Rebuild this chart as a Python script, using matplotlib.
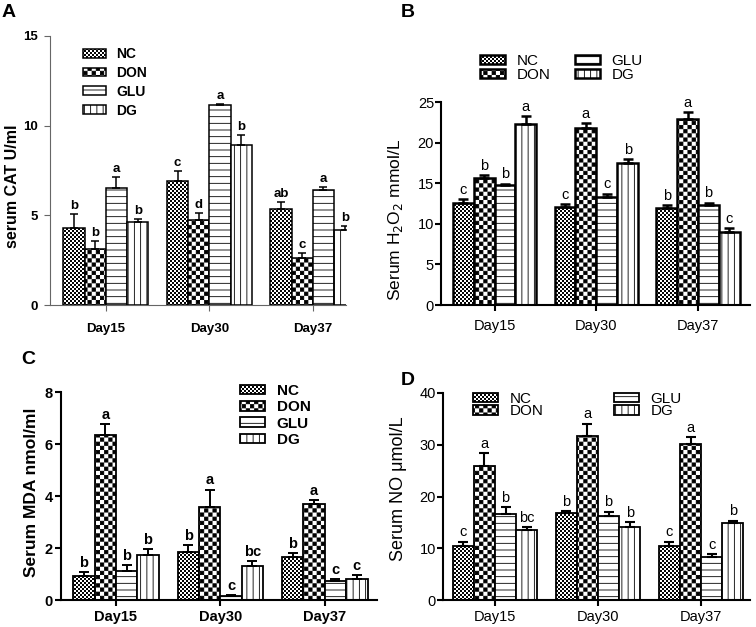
import warnings

import numpy as np
import matplotlib
matplotlib.use("Agg")
import matplotlib.pyplot as plt
import matplotlib.hatch as mhatch
from matplotlib.path import Path

warnings.filterwarnings("ignore")

DPI = 100
W, H = 756, 627
HATCH_LW = 0.6                       # pt
plt.rcParams["font.family"] = ["Liberation Sans", "DejaVu Sans"]
plt.rcParams["hatch.linewidth"] = HATCH_LW
plt.rcParams["hatch.color"] = "black"

GROUPS = ["NC", "DON", "GLU", "DG"]
DAYS = ["Day15", "Day30", "Day37"]
HATCHES = ["k", "c", "h", "v"]       # fine checker, coarse checker, hlines, vlines

# ---- data (rows: NC, DON, GLU, DG; cols: Day15, Day30, Day37) ----------------
cat_mean = [[4.27, 6.91, 5.33], [3.10, 4.74, 2.64], [6.54, 11.15, 6.41], [4.63, 8.90, 4.18]]
cat_err = [[0.79, 0.58, 0.43], [0.49, 0.37, 0.24], [0.62, 0.05, 0.15], [0.17, 0.58, 0.22]]
cat_sig = [["b", "c", "ab"], ["b", "d", "c"], ["a", "a", "a"], ["b", "b", "b"]]

h2o2_mean = [[12.58, 12.09, 11.97], [15.66, 21.80, 22.95], [14.75, 13.24, 12.30], [22.34, 17.54, 9.02]]
h2o2_err = [[0.42, 0.33, 0.33], [0.32, 0.66, 0.82], [0.21, 0.49, 0.32], [0.96, 0.49, 0.48]]
h2o2_sig = [["c", "c", "b"], ["b", "a", "a"], ["b", "c", "b"], ["a", "b", "c"]]

mda_mean = [[0.93, 1.83, 1.66], [6.34, 3.58, 3.69], [1.13, 0.15, 0.74], [1.75, 1.32, 0.82]]
mda_err = [[0.16, 0.27, 0.13], [0.42, 0.67, 0.15], [0.21, 0.04, 0.05], [0.20, 0.19, 0.13]]
mda_sig = [["b", "b", "b"], ["a", "a", "a"], ["b", "c", "c"], ["b", "bc", "c"]]

no_mean = [[10.45, 16.9, 10.45], [25.9, 31.6, 30.1], [16.6, 16.3, 8.4], [13.55, 14.2, 14.8]]
no_err = [[0.85, 0.3, 0.85], [2.5, 2.5, 1.4], [1.3, 0.8, 0.4], [0.5, 0.8, 0.55]]
no_sig = [["c", "b", "c"], ["a", "a", "a"], ["b", "b", "c"], ["bc", "b", "b"]]


# ---- custom hatch patterns (checkerboards + line fills) ---------------------
class Checker(mhatch.HatchPatternBase):
    def __init__(self, hatch, density):
        self.n = 24 * hatch.count("c") + 50 * hatch.count("k")
        self.num_vertices = (self.n * self.n // 2) * 5

    def set_vertices_and_codes(self, vertices, codes):
        n = self.n
        step = 1.0 / n
        shrink = HATCH_LW / 72 / 2            # compensate for the hatch stroke
        ii, jj = np.meshgrid(np.arange(n), np.arange(n))
        m = (ii + jj) % 2 == 0
        x0 = ii[m] * step + shrink
        y0 = jj[m] * step + shrink
        x1 = x0 + step - 2 * shrink
        y1 = y0 + step - 2 * shrink
        sq = np.stack([np.c_[x0, y0], np.c_[x1, y0], np.c_[x1, y1],
                       np.c_[x0, y1], np.c_[x0, y0]], axis=1)
        vertices[:] = sq.reshape(-1, 2)
        c = [Path.MOVETO, Path.LINETO, Path.LINETO, Path.LINETO, Path.CLOSEPOLY]
        codes[:] = np.tile(c, len(x0))


class Lines(mhatch.HatchPatternBase):
    def __init__(self, hatch, density):
        self.nh = 15 * hatch.count("h")
        self.nv = 16 * hatch.count("v")
        self.num_vertices = 2 * (self.nh + self.nv)

    def set_vertices_and_codes(self, vertices, codes):
        pts = []
        for k in range(self.nh):
            y = (k + 0.5) / self.nh
            pts += [(0, y), (1, y)]
        for k in range(self.nv):
            x = (k + 0.5) / self.nv
            pts += [(x, 0), (x, 1)]
        vertices[:] = pts
        codes[0::2] = Path.MOVETO
        codes[1::2] = Path.LINETO


mhatch._hatch_types.extend([Checker, Lines])

fig = plt.figure(figsize=(W / DPI, H / DPI), dpi=DPI)


def px_axes(l, t, r, b):
    return fig.add_axes([l / W, 1 - b / H, (r - l) / W, (b - t) / H])


def panel(ax, mean, err, sig, st):
    x = np.arange(len(DAYS))
    w = 0.205
    fw = "bold" if st["bold"] else "normal"
    for i, g in enumerate(GROUPS):
        xs = x + (i - 1.5) * w
        ax.bar(xs, mean[i], w, color="white", edgecolor="black", linewidth=st["lw"],
               hatch=HATCHES[i], label=g, zorder=2)
        ax.errorbar(xs, mean[i], yerr=[np.zeros(len(xs)), err[i]], fmt="none",
                    ecolor="black", elinewidth=st["elw"], capsize=st["cap"],
                    capthick=st["elw"], zorder=3)
        for xx, m, e, s in zip(xs, mean[i], err[i], sig[i]):
            ax.annotate(s, (xx, m + e), xytext=(0, 1.5), textcoords="offset points",
                        ha="center", va="bottom", fontsize=st["fs"], fontweight=fw)
    ax.set_xlim(*st["xlim"])
    ax.set_ylim(0, st["yticks"][-1])
    ax.set_yticks(st["yticks"])
    ax.set_yticklabels([str(v) for v in st["yticks"]], fontsize=st["fs"], fontweight=fw)
    ax.set_xticks(x)
    ax.set_xticklabels(DAYS, fontsize=st["fs"], fontweight=fw)
    for s in ("top", "right"):
        ax.spines[s].set_visible(False)
    for s in ("left", "bottom"):
        ax.spines[s].set_linewidth(st["slw"])
        ax.spines[s].set_color(st["scol"])
    ax.tick_params(axis="both", length=4, width=st["slw"], color=st["scol"])
    ax.tick_params(axis="x", pad=st["xpad"])
    ax.tick_params(axis="y", pad=st["ypad"])
    ax.set_ylabel(st["ylabel"], fontsize=st["ylfs"], fontweight=fw)
    ax.yaxis.set_label_coords(*st["ylab_xy"])
    ax.legend(loc="upper left", bbox_to_anchor=(st["leg"][0] / W, 1 - st["leg"][1] / H),
              bbox_transform=fig.transFigure, ncol=st["ncol"], frameon=False,
              borderpad=0, borderaxespad=0, handlelength=1.65, handleheight=0.6,
              handletextpad=0.75, labelspacing=st["lsp"], columnspacing=st["csp"],
              prop={"size": st["fs"] + 0.5, "weight": fw})


axA = px_axes(50, 36, 346, 305)
panel(axA, cat_mean, cat_err, cat_sig, dict(
    bold=True, lw=1.1, elw=1.1, cap=3.2, fs=9.5, xlim=(-0.54, 2.32),
    yticks=[0, 5, 10, 15], slw=0.8, scol="#666666", xpad=9, ypad=5,
    ylabel="serum CAT U/ml", ylfs=11.5, ylab_xy=(-0.1, 0.44), leg=(83, 47), ncol=1,
    lsp=0.35, csp=1.0))

axB = px_axes(441, 102, 750, 305)
panel(axB, h2o2_mean, h2o2_err, h2o2_sig, dict(
    bold=False, lw=1.8, elw=1.8, cap=3.5, fs=10.5, xlim=(-0.526, 2.51),
    yticks=[0, 5, 10, 15, 20, 25], slw=1.5, scol="black", xpad=6, ypad=1,
    ylabel="Serum H$_2$O$_2$ mmol/L", ylfs=12.5, ylab_xy=(-0.115, 0.42), leg=(480, 54),
    ncol=2, lsp=0.0, csp=1.6))

axC = px_axes(61, 392, 377, 600)
panel(axC, mda_mean, mda_err, mda_sig, dict(
    bold=True, lw=1.3, elw=1.4, cap=3.5, fs=10.5, xlim=(-0.526, 2.5),
    yticks=[0, 2, 4, 6, 8], slw=1.5, scol="black", xpad=3, ypad=2,
    ylabel="Serum MDA nmol/ml", ylfs=12.5, ylab_xy=(-0.07, 0.52), leg=(240, 384), ncol=1,
    lsp=0.15, csp=1.0))

axD = px_axes(443, 393, 750, 600)
panel(axD, no_mean, no_err, no_sig, dict(
    bold=False, lw=1.3, elw=1.5, cap=3.5, fs=10.5, xlim=(-0.505, 2.475),
    yticks=[0, 10, 20, 30, 40], slw=1.5, scol="black", xpad=3, ypad=1,
    ylabel="Serum NO \u03bcmol/L", ylfs=13, ylab_xy=(-0.118, 0.54), leg=(473, 392), ncol=2,
    lsp=-0.1, csp=4.6))

for lbl, (x, y) in zip("ABCD", [(2, 4), (401, 4), (21, 351), (401, 372)]):
    fig.text(x / W, 1 - y / H, lbl, fontsize=14, fontweight="bold", ha="left", va="top")

fig.savefig("out.png", dpi=DPI)
